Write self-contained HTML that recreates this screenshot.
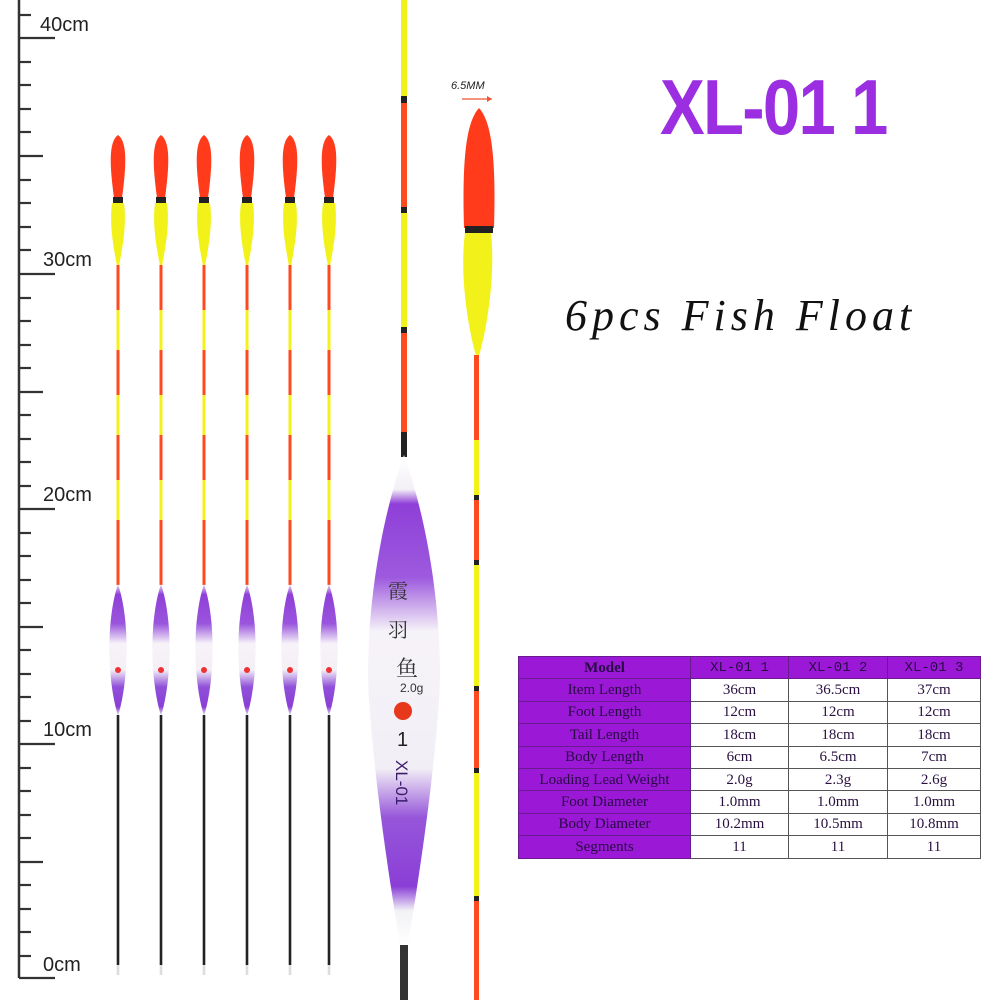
<!DOCTYPE html>
<html><head><meta charset="utf-8"><style>
html,body{margin:0;padding:0;background:#fff;}
.wrap{position:relative;width:1000px;height:1000px;overflow:hidden;}
svg{position:absolute;left:0;top:0;}
.t{position:absolute;font-family:"Liberation Sans",sans-serif;}
table{position:absolute;left:518px;top:656px;border-collapse:collapse;font-family:"Liberation Serif","Noto Serif CJK SC",serif;font-size:15px;color:#2a1040;}
td{border:1px solid #555;height:21.4px;padding:0;text-align:center;line-height:20px;}
td.p{background:#9a18d6;font-weight:bold;color:#2a0a45;border-color:#6a1a90;}
</style></head><body><div class="wrap">
<svg width="1000" height="1000" viewBox="0 0 1000 1000">
<defs>
<linearGradient id="pg" x1="0" y1="0" x2="0" y2="1">
<stop offset="0" stop-color="#e8e0f0"/><stop offset="0.08" stop-color="#8f3fd8"/><stop offset="0.3" stop-color="#9a55dd"/><stop offset="0.45" stop-color="#f6f2f8"/><stop offset="0.65" stop-color="#f4f0f6"/><stop offset="0.78" stop-color="#9050d8"/><stop offset="0.93" stop-color="#8a3ed6"/><stop offset="1" stop-color="#e8e8f0"/>
</linearGradient>
<linearGradient id="bg" x1="0" y1="0" x2="0" y2="1">
<stop offset="0" stop-color="#ffffff"/><stop offset="0.07" stop-color="#f4f0f6"/><stop offset="0.1" stop-color="#8f3fd8"/><stop offset="0.25" stop-color="#9d5ade"/><stop offset="0.36" stop-color="#f6f3f8"/><stop offset="0.64" stop-color="#f2eef6"/><stop offset="0.74" stop-color="#9656da"/><stop offset="0.88" stop-color="#8a3ed6"/><stop offset="0.93" stop-color="#f2f2f6"/><stop offset="1" stop-color="#ffffff"/>
</linearGradient>
<g id="sf">
<path d="M0,135 C-10,142 -8,168 -4,198 L4,198 C8,168 10,142 0,135Z" fill="#ff3b1c"/>
<rect x="-5" y="197" width="10" height="6" fill="#222"/>
<path d="M-6,203 C-9,225 -4,250 -1,266 L1,266 C4,250 9,225 6,203Z" fill="#f2f21a"/>
<rect x="-1.5" y="265" width="3" height="320" fill="#f2f21a"/>
<rect x="-1.5" y="265" width="3" height="45" fill="#ff4a20"/>
<rect x="-1.5" y="350" width="3" height="45" fill="#ff4a20"/>
<rect x="-1.5" y="435" width="3" height="45" fill="#ff4a20"/>
<rect x="-1.5" y="520" width="3" height="65" fill="#ff4a20"/>
<path d="M0,584 C-12,620 -11,680 0,716 C11,680 12,620 0,584Z" fill="url(#pg)"/>
<circle cx="0" cy="670" r="3" fill="#e33"/>
<rect x="-1.3" y="715" width="2.6" height="250" fill="#222"/>
<rect x="-1.3" y="965" width="2.6" height="10" fill="#ddd"/>
</g>
</defs>
<line x1="19" y1="0" x2="19" y2="978" stroke="#333" stroke-width="2.5"/>
<g stroke="#333" stroke-width="2.2">
<line x1="19" y1="15" x2="31" y2="15"/><line x1="19" y1="38" x2="55" y2="38"/><line x1="19" y1="62" x2="31" y2="62"/><line x1="19" y1="85" x2="31" y2="85"/><line x1="19" y1="109" x2="31" y2="109"/><line x1="19" y1="132" x2="31" y2="132"/><line x1="19" y1="156" x2="43" y2="156"/><line x1="19" y1="180" x2="31" y2="180"/><line x1="19" y1="203" x2="31" y2="203"/><line x1="19" y1="227" x2="31" y2="227"/><line x1="19" y1="250" x2="31" y2="250"/>
<line x1="19" y1="274" x2="55" y2="274"/><line x1="19" y1="298" x2="31" y2="298"/><line x1="19" y1="321" x2="31" y2="321"/><line x1="19" y1="345" x2="31" y2="345"/><line x1="19" y1="368" x2="31" y2="368"/><line x1="19" y1="392" x2="43" y2="392"/><line x1="19" y1="415" x2="31" y2="415"/><line x1="19" y1="439" x2="31" y2="439"/><line x1="19" y1="462" x2="31" y2="462"/><line x1="19" y1="486" x2="31" y2="486"/>
<line x1="19" y1="509" x2="55" y2="509"/><line x1="19" y1="533" x2="31" y2="533"/><line x1="19" y1="556" x2="31" y2="556"/><line x1="19" y1="580" x2="31" y2="580"/><line x1="19" y1="603" x2="31" y2="603"/><line x1="19" y1="627" x2="43" y2="627"/><line x1="19" y1="650" x2="31" y2="650"/><line x1="19" y1="674" x2="31" y2="674"/><line x1="19" y1="697" x2="31" y2="697"/><line x1="19" y1="721" x2="31" y2="721"/>
<line x1="19" y1="744" x2="55" y2="744"/><line x1="19" y1="768" x2="31" y2="768"/><line x1="19" y1="791" x2="31" y2="791"/><line x1="19" y1="815" x2="31" y2="815"/><line x1="19" y1="838" x2="31" y2="838"/><line x1="19" y1="862" x2="43" y2="862"/><line x1="19" y1="885" x2="31" y2="885"/><line x1="19" y1="909" x2="31" y2="909"/><line x1="19" y1="932" x2="31" y2="932"/><line x1="19" y1="956" x2="31" y2="956"/>
<line x1="19" y1="978" x2="55" y2="978"/>
</g>
<g font-family="Liberation Sans,sans-serif" font-size="20" fill="#222">
<text x="40" y="31">40cm</text><text x="43" y="266">30cm</text><text x="43" y="501">20cm</text><text x="43" y="736">10cm</text><text x="43" y="971">0cm</text>
</g>
<use href="#sf" x="118"/><use href="#sf" x="161"/><use href="#sf" x="204"/><use href="#sf" x="247"/><use href="#sf" x="290"/><use href="#sf" x="329"/>
<rect x="401" y="0" width="6" height="100" fill="#f2f21a"/>
<rect x="401" y="96" width="6" height="7" fill="#222"/>
<rect x="401" y="103" width="6" height="107" fill="#ff4a20"/>
<rect x="401" y="207" width="6" height="6" fill="#222"/>
<rect x="401" y="213" width="6" height="117" fill="#f2f21a"/>
<rect x="401" y="327" width="6" height="6" fill="#222"/>
<rect x="401" y="333" width="6" height="100" fill="#ff4a20"/>
<rect x="401" y="432" width="6" height="25" fill="#222"/>
<path d="M404,455 C374,540 365,640 369,700 C376,800 393,900 400,945 L408,945 C415,900 432,800 439,700 C443,640 434,540 404,455Z" fill="url(#bg)"/>
<rect x="400" y="945" width="8" height="55" fill="#333"/>
<g font-family="Liberation Serif,Noto Serif CJK SC,serif" fill="#333">
<text x="388" y="598" font-size="20">霞</text><text x="388" y="637" font-size="20">羽</text><text x="396" y="676" font-size="22">鱼</text>
<text x="400" y="692" font-size="12" font-family="Liberation Sans,sans-serif">2.0g</text>
</g>
<circle cx="403" cy="711" r="9" fill="#e8381c"/>
<text x="397" y="746" font-size="20" font-family="Liberation Sans,sans-serif" fill="#222">1</text>
<text x="0" y="0" font-size="17" font-family="Liberation Sans,sans-serif" fill="#3a1a6a" transform="translate(396,760) rotate(90)">XL-01</text>
<path d="M479,108 C466,122 462,160 464,228 L494,228 C496,160 492,122 479,108Z" fill="#ff3b1c"/>
<rect x="465" y="226" width="28" height="7" fill="#222"/>
<path d="M465,233 C460,270 466,320 476,356 L479,356 C489,320 495,270 491,233Z" fill="#f2f21a"/>
<rect x="474" y="355" width="5" height="645" fill="#f2f21a"/>
<rect x="474" y="355" width="5" height="85" fill="#ff4a20"/>
<rect x="474" y="497" width="5" height="65" fill="#ff4a20"/>
<rect x="474" y="688" width="5" height="82" fill="#ff4a20"/>
<rect x="474" y="898" width="5" height="102" fill="#ff4a20"/>
<g fill="#222"><rect x="474" y="495" width="5" height="5"/><rect x="474" y="560" width="5" height="5"/><rect x="474" y="686" width="5" height="5"/><rect x="474" y="768" width="5" height="5"/><rect x="474" y="896" width="5" height="5"/></g>
<text x="451" y="89" font-size="11" font-style="italic" font-family="Liberation Sans,sans-serif" fill="#222">6.5MM</text>
<line x1="462" y1="99" x2="492" y2="99" stroke="#e53" stroke-width="1.2"/>
<path d="M492,99 l-5,-3 v6z" fill="#e53"/>
</svg>
<div class="t" style="left:660px;top:62px;font-size:78px;font-weight:bold;color:#9a2ee0;letter-spacing:-2px;transform:scaleX(0.86);transform-origin:0 0;white-space:nowrap;">XL-01 1</div>
<div class="t" style="left:565px;top:290px;font-size:44px;font-style:italic;font-family:'Liberation Serif',serif;color:#111;letter-spacing:5px;white-space:nowrap;">6pcs Fish Float</div>
<table>
<tr><td class="p" style="width:171px">Model</td><td class="p" style="width:97px;font-weight:normal;font-family:'Liberation Mono',monospace;font-size:14px">XL-01 1</td><td class="p" style="width:98px;font-weight:normal;font-family:'Liberation Mono',monospace;font-size:14px">XL-01 2</td><td class="p" style="width:92px;font-weight:normal;font-family:'Liberation Mono',monospace;font-size:14px">XL-01 3</td></tr>
<tr><td class="p" style="font-weight:normal">Item Length</td><td>36cm</td><td>36.5cm</td><td>37cm</td></tr>
<tr><td class="p" style="font-weight:normal">Foot Length</td><td>12cm</td><td>12cm</td><td>12cm</td></tr>
<tr><td class="p" style="font-weight:normal">Tail Length</td><td>18cm</td><td>18cm</td><td>18cm</td></tr>
<tr><td class="p" style="font-weight:normal">Body Length</td><td>6cm</td><td>6.5cm</td><td>7cm</td></tr>
<tr><td class="p" style="font-weight:normal">Loading Lead Weight</td><td>2.0g</td><td>2.3g</td><td>2.6g</td></tr>
<tr><td class="p" style="font-weight:normal">Foot Diameter</td><td>1.0mm</td><td>1.0mm</td><td>1.0mm</td></tr>
<tr><td class="p" style="font-weight:normal">Body Diameter</td><td>10.2mm</td><td>10.5mm</td><td>10.8mm</td></tr>
<tr><td class="p" style="font-weight:normal">Segments</td><td>11</td><td>11</td><td>11</td></tr>
</table>
</div></body></html>
